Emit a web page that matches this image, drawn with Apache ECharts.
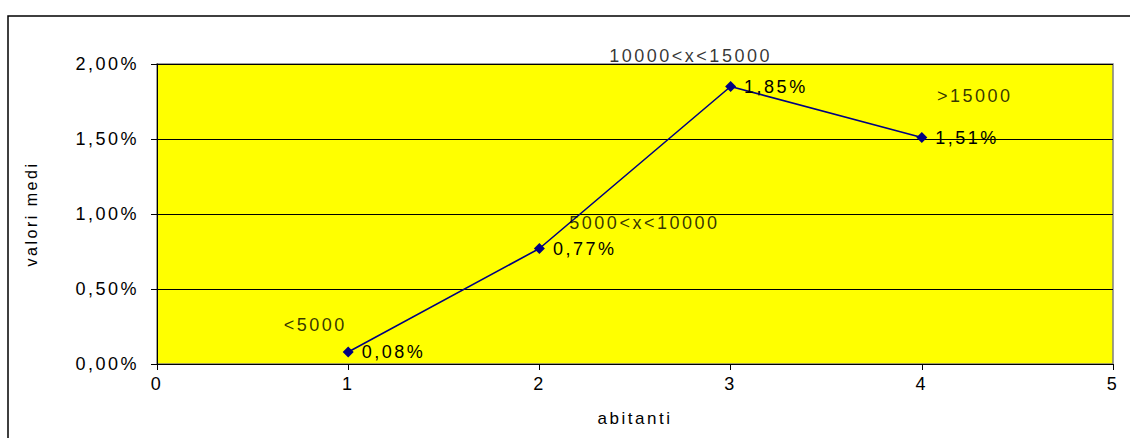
<!DOCTYPE html>
<html>
<head>
<meta charset="utf-8">
<script src="https://cdn.jsdelivr.net/npm/echarts@6/dist/echarts.min.js"></script>
<style>
  html, body { margin: 0; padding: 0; background: #fff; }
  #chart { width: 1130px; height: 438px; }
  #chart text { letter-spacing: 2.5px; }
</style>
</head>
<body>
<div id="chart"></div>
<script>
// Data
const xValues = [1, 2, 3, 4];
const yValues = [0.0008, 0.0077, 0.0185, 0.0151];
const groupNames = ['<5000', '5000<x<10000', '10000<x<15000', '>15000'];
const xTicks = { min: 0, max: 5, interval: 1 };
const yTicks = { min: 0, max: 0.02, interval: 0.005 };
const xTitle = 'abitanti';
const yTitle = 'valori medi';

// Label offsets for group names (style)
const nameOffsets = [[-33, -27], [105, -26], [-40, -31], [53, -42]];

const fmtPct = v => (v * 100).toFixed(2).replace('.', ',') + '%';
const FONT = "'Liberation Sans', Arial, sans-serif";
const FS = 18;

const pts = xValues.map((x, i) => [x, yValues[i]]);

const chart = echarts.init(document.getElementById('chart'), null, { renderer: 'svg' });
chart.setOption({
  animation: false,
  backgroundColor: '#ffffff',
  textStyle: { fontFamily: FONT },
  graphic: [{
    type: 'rect',
    shape: { x: 8, y: 16, width: 1200, height: 500 },
    style: { fill: 'none', stroke: '#000', lineWidth: 1.5 },
    silent: true,
    z: -10
  }],
  grid: {
    left: 157, right: 17, top: 64, bottom: 74,
    show: true, backgroundColor: '#ffff00', borderColor: '#808080', borderWidth: 1.5
  },
  xAxis: {
    type: 'value',
    min: xTicks.min, max: xTicks.max, interval: xTicks.interval,
    name: xTitle, nameLocation: 'middle', nameGap: 46,
    nameTextStyle: { color: '#000', fontSize: 17, fontFamily: FONT },
    axisLine: { show: true, onZero: false, lineStyle: { color: '#000', width: 1 } },
    axisTick: { show: true, length: 6, inside: false, lineStyle: { color: '#000' } },
    axisLabel: { color: '#000', fontSize: FS, fontFamily: FONT, margin: 11 },
    splitLine: { show: false }
  },
  yAxis: {
    type: 'value',
    min: yTicks.min, max: yTicks.max, interval: yTicks.interval,
    name: yTitle, nameLocation: 'middle', nameGap: 118, nameRotate: 90,
    nameTextStyle: { color: '#000', fontSize: 16, fontFamily: FONT },
    axisLine: { show: true, lineStyle: { color: '#000', width: 1 } },
    axisTick: { show: true, length: 6, inside: false, lineStyle: { color: '#000' } },
    axisLabel: { color: '#000', fontSize: FS, fontFamily: FONT, margin: 18, formatter: fmtPct },
    splitLine: { show: true, lineStyle: { color: '#000', width: 1 } }
  },
  series: [{
    type: 'line',
    data: pts,
    symbol: 'diamond',
    symbolSize: 11,
    itemStyle: { color: '#000080' },
    lineStyle: { color: '#000080', width: 1.6 },
    label: {
      show: true, position: 'right', distance: 8,
      color: '#000', fontSize: FS, fontFamily: FONT,
      formatter: p => fmtPct(p.value[1])
    },
    z: 5
  }, {
    type: 'scatter',
    data: pts.map((p, i) => ({
      value: p,
      label: { offset: nameOffsets[i] }
    })),
    symbolSize: 0,
    silent: true,
    label: {
      show: true, position: 'inside',
      color: '#000', fontSize: FS, fontFamily: FONT,
      formatter: p => groupNames[p.dataIndex]
    },
    z: 6
  }]
});
</script>
</body>
</html>
